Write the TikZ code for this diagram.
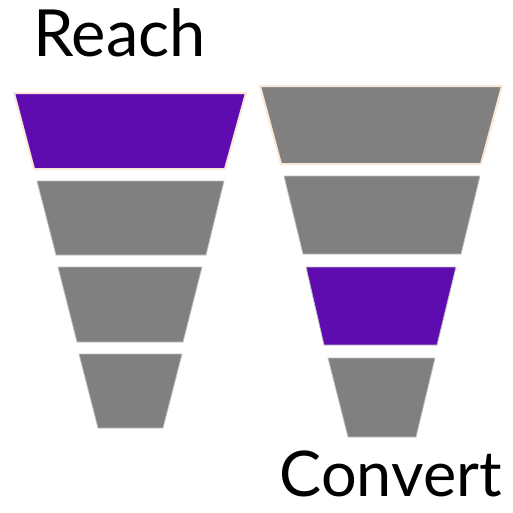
\documentclass[tikz,border=0pt]{standalone}
\usepackage{fontspec}
\setmainfont{Lato}
\definecolor{funnelpurple}{HTML}{5E0BB0}
\definecolor{funnelgray}{HTML}{808080}
\definecolor{rimcolor}{HTML}{F8E8DA}
\begin{document}
\begin{tikzpicture}[x=1pt, y=-1pt,
  seg/.style={fill=funnelgray, draw=gray!50, line width=0.8pt},
  hot/.style={fill=funnelpurple, draw=gray!50, line width=0.8pt},
  rim/.style={draw=rimcolor, line width=2pt}]
\useasboundingbox (0,0) rectangle (513,512);
\node[anchor=base west, inner sep=0pt, font=\fontsize{65}{72}\selectfont] (reach) at (33,56) {Reach};
\node[anchor=base east, inner sep=0pt, font=\fontsize{63}{72}\selectfont] (convert) at (502,496) {Convert};
% left funnel
\draw[hot, rim] (14,93) -- (246,93) -- (225,169) -- (34,169) -- cycle;
\draw[seg] (37,181) -- (224,181) -- (206,255) -- (56,255) -- cycle;
\draw[seg] (58,267) -- (202,267) -- (183,342) -- (77,342) -- cycle;
\draw[seg] (79,354) -- (182,354) -- (163,428) -- (98,428) -- cycle;
% right funnel
\draw[seg, rim] (260,86) -- (502,86) -- (481,164) -- (281,164) -- cycle;
\draw[seg] (284,176) -- (480,176) -- (461,254) -- (303,254) -- cycle;
\draw[hot] (306,267) -- (456,267) -- (437,345) -- (324,345) -- cycle;
\draw[seg] (328,358) -- (435,358) -- (416,437) -- (348,437) -- cycle;
\end{tikzpicture}
\end{document}
